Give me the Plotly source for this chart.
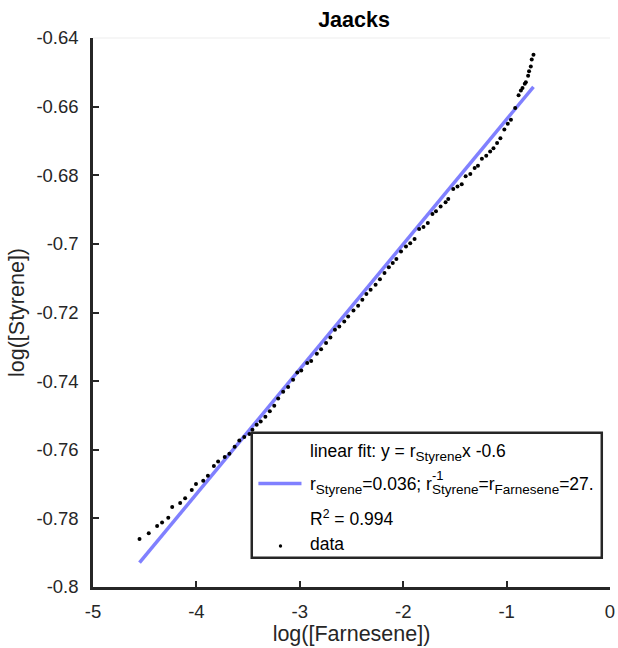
import plotly.graph_objects as go

# log concentrations over the run
farnesene_log = [-4.550, -4.461, -4.380, -4.332, -4.272, -4.234, -4.157, -4.109, -4.045, -4.004,
                 -3.934, -3.889, -3.831, -3.790, -3.726, -3.681, -3.630, -3.585, -3.537, -3.487,
                 -3.458, -3.417, -3.378, -3.333, -3.290, -3.247, -3.209, -3.161, -3.113, -3.065,
                 -3.024, -2.986, -2.928, -2.890, -2.835, -2.794, -2.746, -2.704, -2.660, -2.618,
                 -2.570, -2.532, -2.481, -2.436, -2.395, -2.356, -2.315, -2.267, -2.225, -2.181,
                 -2.139, -2.101, -2.066, -2.021, -1.973, -1.932, -1.890, -1.846, -1.804, -1.762,
                 -1.717, -1.683, -1.638, -1.590, -1.564, -1.516, -1.475, -1.434, -1.396, -1.351,
                 -1.309, -1.277, -1.239, -1.197, -1.159, -1.127, -1.092, -1.060, -1.022, -0.989,
                 -0.958, -0.917, -0.884, -0.862, -0.846, -0.824, -0.814, -0.792, -0.783, -0.766,
                 -0.757, -0.740]
styrene_log = [-0.7860, -0.7843, -0.7822, -0.7812, -0.7798, -0.7767, -0.7755, -0.7741, -0.7717, -0.7700,
               -0.7690, -0.7676, -0.7647, -0.7634, -0.7621, -0.7612, -0.7591, -0.7573, -0.7563, -0.7554,
               -0.7542, -0.7527, -0.7518, -0.7504, -0.7488, -0.7472, -0.7451, -0.7431, -0.7417, -0.7396,
               -0.7375, -0.7369, -0.7347, -0.7341, -0.7320, -0.7307, -0.7289, -0.7273, -0.7250, -0.7241,
               -0.7226, -0.7212, -0.7194, -0.7180, -0.7163, -0.7146, -0.7134, -0.7119, -0.7103, -0.7085,
               -0.7068, -0.7056, -0.7044, -0.7022, -0.7008, -0.6998, -0.6986, -0.6957, -0.6951, -0.6939,
               -0.6913, -0.6905, -0.6891, -0.6879, -0.6869, -0.6840, -0.6833, -0.6826, -0.6803, -0.6796,
               -0.6779, -0.6772, -0.6752, -0.6743, -0.6731, -0.6721, -0.6706, -0.6692, -0.6667, -0.6650,
               -0.6638, -0.6604, -0.6567, -0.6553, -0.6546, -0.6533, -0.6529, -0.6510, -0.6497, -0.6483,
               -0.6463, -0.6449]

# linear fit of log[Styrene] against log[Farnesene]
fit_slope = 0.0364
fit_intercept = -0.6273
r_squared = 0.994

x_ticks = [-5, -4, -3, -2, -1, 0]
x_tick_labels = ["-5", "-4", "-3", "-2", "-1", "0"]
y_ticks = [-0.8, -0.78, -0.76, -0.74, -0.72, -0.7, -0.68, -0.66, -0.64]
y_tick_labels = ["-0.8", "-0.78", "-0.76", "-0.74", "-0.72", "-0.7", "-0.68", "-0.66", "-0.64"]

W, H = 618, 648
L, R, T, B = 93, 3, 38, 61
PW, PH = W - L - R, H - T - B

FONT = "Liberation Sans, Arial, Helvetica, sans-serif"
AXIS = "#262626"
FIT = "#8080ff"


def px(xp):
    return (xp - L) / PW


def py(yp):
    return (H - B - yp) / PH


def sub(s):
    # subscript a little larger than plotly's default 70 %
    return f'<sub><span style="font-size:13.5px">{s}</span></sub>'


fit_x = [min(farnesene_log), max(farnesene_log)]
fit_y = [fit_slope * v + fit_intercept for v in fit_x]

fig = go.Figure()
fig.add_trace(go.Scatter(x=fit_x, y=fit_y, mode="lines",
                         line=dict(color=FIT, width=3.5), showlegend=False,
                         hoverinfo="skip"))
fig.add_trace(go.Scatter(x=farnesene_log, y=styrene_log, mode="markers",
                         marker=dict(color="black", size=4), showlegend=False))

axis_common = dict(showgrid=False, zeroline=False, showline=True, linecolor=AXIS,
                   linewidth=2.5, ticks="inside", ticklen=6, tickwidth=2,
                   tickcolor=AXIS, ticklabeloverflow="allow",
                   tickfont=dict(family=FONT, size=18.5, color="#262626"))

fig.update_xaxes(range=[-5, 0], tickvals=x_ticks, ticktext=x_tick_labels,
                 ticklabelstandoff=6,
                 title=dict(text="log([Farnesene])", standoff=4,
                            font=dict(family=FONT, size=21.5, color="#262626")),
                 **axis_common)
fig.update_yaxes(range=[-0.8, -0.64], tickvals=y_ticks, ticktext=y_tick_labels,
                 ticklabelstandoff=8,
                 title=dict(text="log([Styrene])", standoff=6,
                            font=dict(family=FONT, size=21.5, color="#262626")),
                 **axis_common)

shapes = [
    # faint upper frame edge
    dict(type="line", xref="paper", yref="paper", x0=0, x1=1, y0=1, y1=1,
         line=dict(color="#ededed", width=1)),
    # legend box
    dict(type="rect", xref="paper", yref="paper", x0=px(253.3), x1=px(606.7),
         y0=py(557.7), y1=py(432.7), line=dict(color=AXIS, width=2.5),
         fillcolor="white", layer="above"),
    # legend sample for the fit line
    dict(type="line", xref="paper", yref="paper", x0=px(260), x1=px(303.5),
         y0=py(483.5), y1=py(483.5), line=dict(color=FIT, width=3.5), layer="above"),
    # legend sample for the data
    dict(type="circle", xref="paper", yref="paper", x0=px(280.6), x1=px(284),
         y0=py(547.7), y1=py(544.3), fillcolor="black", line=dict(color="black", width=0),
         layer="above"),
]

leg_font = dict(family=FONT, size=17.5, color="black")
row_x = px(310)


def leg_text(text, x, yp, size=None):
    f = dict(leg_font)
    if size:
        f["size"] = size
    return dict(text=text, x=x, y=py(yp), xref="paper", yref="paper",
                xanchor="left", yanchor="middle", showarrow=False, font=f)


inv_slope = int(1 / fit_slope)
annotations = [
    leg_text(f"linear fit: y = r{sub('Styrene')}x {fit_intercept:.1f}", row_x, 452),
    leg_text(f"r{sub('Styrene')}={fit_slope:.3f}; r", row_x, 485),
    leg_text("-1", px(433.5), 475.5, size=13),
    leg_text(f"{sub('Styrene')}=r{sub('Farnesene')}={inv_slope}.", px(433.5), 485),
    leg_text(f"R<sup>2</sup> = {r_squared:.3f}", row_x, 518),
    leg_text("data", row_x, 544),
]

fig.update_layout(
    width=W, height=H,
    margin=dict(l=L, r=R, t=T, b=B),
    paper_bgcolor="white", plot_bgcolor="white",
    title=dict(text="<b>Jaacks</b>", x=(L + PW / 2) / W, xanchor="center",
               y=1 - 19 / H, yanchor="middle", yref="container",
               font=dict(family=FONT, size=21.5, color="black")),
    shapes=shapes, annotations=annotations,
)

fig.write_html("out.html")
